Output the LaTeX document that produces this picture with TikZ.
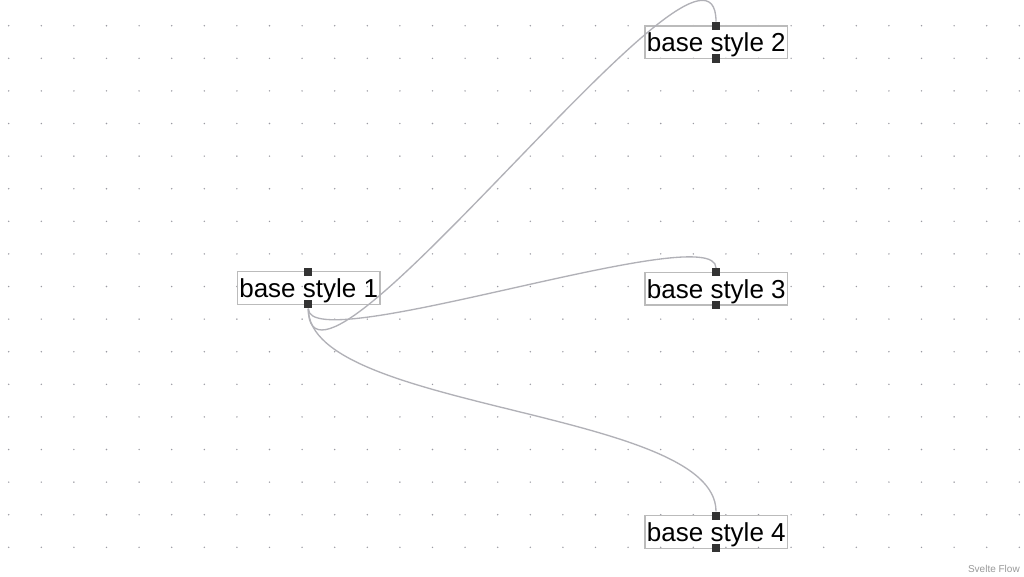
\documentclass[tikz,border=0pt]{standalone}
\usepackage{fontspec}
\setmainfont{Liberation Sans}
\definecolor{nodeborder}{HTML}{BBBBBB}
\definecolor{handlecol}{HTML}{333333}
\definecolor{edgecol}{HTML}{B1B1B7}
\definecolor{dotcol}{HTML}{9A9AA2}
\definecolor{attrcol}{HTML}{999999}
\begin{document}
\begin{tikzpicture}[x=0.75pt,y=-0.75pt,
  basenode/.style={draw=nodeborder, line width=1.1pt, minimum width=107pt, minimum height=24.45pt,
    inner sep=0pt, text height=15.8pt, text depth=1.3pt, font=\fontsize{19.5pt}{23pt}\selectfont, text=black},
  handle/.style={fill=handlecol, draw=none, minimum size=6.2pt, inner sep=0pt},
  edge/.style={draw=edgecol, line width=1pt}]
\useasboundingbox[fill=white] (0,0) rectangle (1024,576);
% dot grid
\foreach \i in {0,...,31}
  \foreach \j in {0,...,16}
    \fill[dotcol] (8.7+32.6*\i, 25.7+32.6*\j) circle (0.6pt);
% nodes
\node[basenode] (n1) at (308.7,288) {base style 1};
\node[basenode] (n2) at (716.3,42.3) {base style 2};
\node[basenode] (n3) at (716.3,288.6) {base style 3};
\node[basenode] (n4) at (716.3,532) {base style 4};
% handles
\node[handle] (h1t) at (308.3,271.7) {};
\node[handle] (h1b) at (308.3,304.3) {};
\node[handle] (h2t) at (716,26) {};
\node[handle] (h2b) at (716,58.6) {};
\node[handle] (h3t) at (716,272.3) {};
\node[handle] (h3b) at (716,304.9) {};
\node[handle] (h4t) at (716,515.7) {};
\node[handle] (h4b) at (716,548.3) {};
% edges
\draw[edge] (h1b.south) .. controls +(0,135) and +(0,-135) .. (h2t.north);
\draw[edge] (h1b.south) .. controls +(0,50.5) and +(0,-50.5) .. (h3t.north);
\draw[edge] (h1b.south) .. controls +(0,102) and +(0,-102) .. (h4t.north);
% attribution
\node[anchor=base east, inner sep=0pt, text=attrcol, font=\fontsize{7.5pt}{9pt}\selectfont] (attr) at (1020,572) {Svelte Flow};
\end{tikzpicture}
\end{document}
